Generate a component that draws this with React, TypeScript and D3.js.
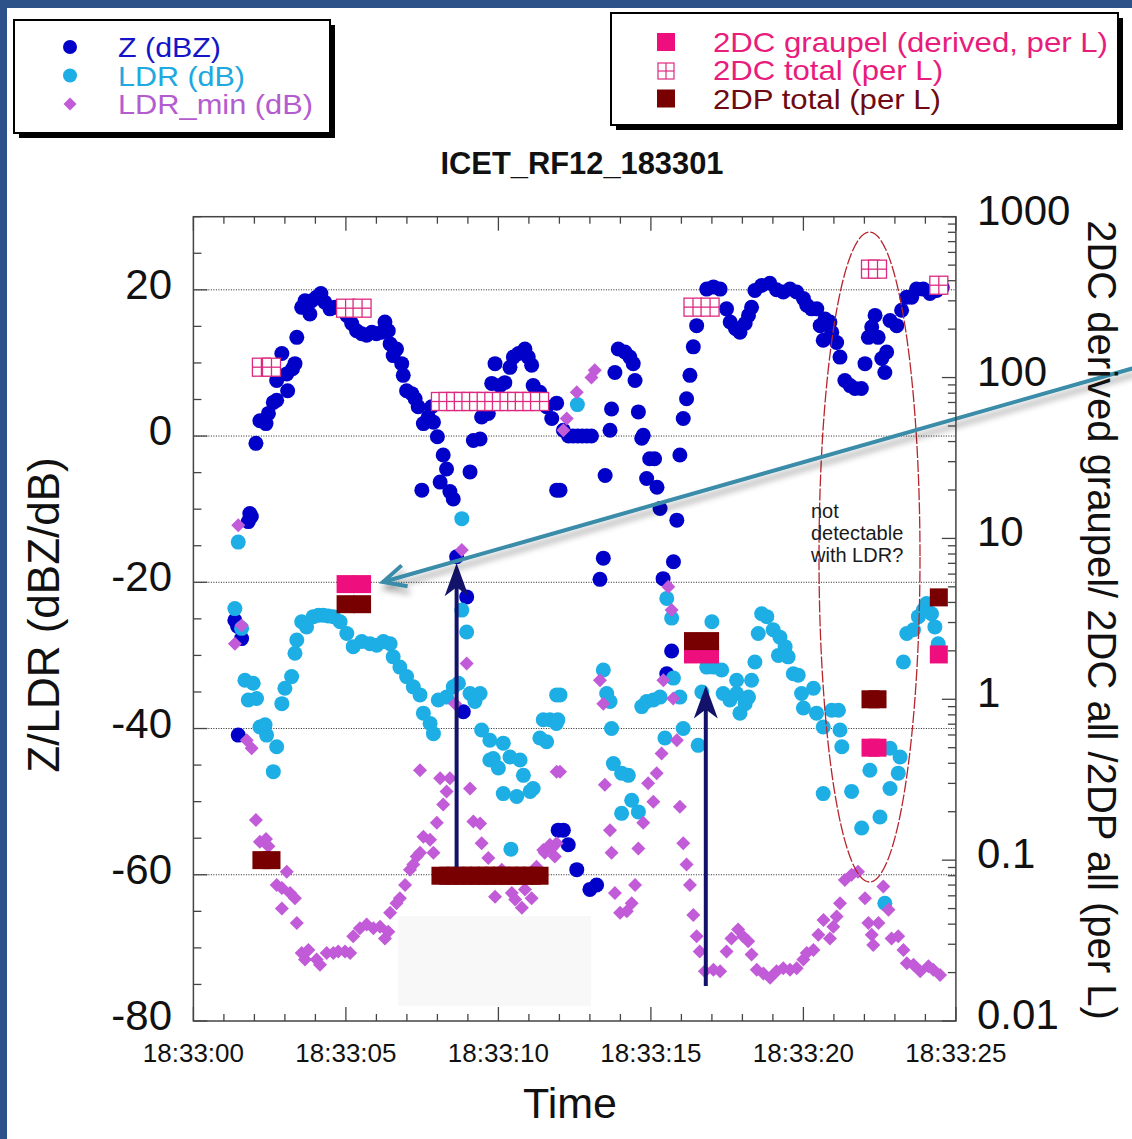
import React from 'react';
import * as d3 from 'd3';

// time in seconds after 18:33:00, values in dBZ / dB
const zPoints: [number, number][] = [
  [1.36,-25.2],[1.45,-26.0],[1.47,-40.9],[1.58,-27.7],[1.8,-11.7],[1.85,-10.6],[1.9,-11.0],
  [2.05,-1.0],[2.18,2.1],[2.38,1.7],[2.46,3.1],[2.62,4.6],[2.73,4.9],[2.73,7.6],[2.9,11.3],
  [3.06,8.5],[3.09,6.2],[3.25,9.2],[3.33,9.9],[3.39,13.5],[3.55,17.6],[3.66,18.5],[3.82,16.7],
  [3.88,18.5],[4.04,19.0],[4.18,19.5],[4.31,18.3],[4.48,17.4],[4.64,17.6],[4.81,17.6],[5.03,16.5],
  [5.19,15.4],[5.35,14.4],[5.52,14.0],[5.68,13.8],[5.85,14.2],[6.0,14.0],[6.17,14.2],[6.28,15.6],
  [6.39,14.4],[6.45,12.6],[6.55,11.0],[6.66,11.9],[6.83,9.9],[6.88,8.3],[6.99,6.2],[7.16,5.8],
  [7.27,5.1],[7.37,4.0],[7.49,-7.4],[7.54,1.7],[7.7,2.6],[7.81,4.0],[7.87,1.9],[8.0,-0.1],
  [8.09,-6.3],[8.19,-2.6],[8.3,-4.5],[8.41,-7.6],[8.52,-8.6],[8.63,-16.5],[8.85,-37.7],[8.96,-22.0],
  [9.07,-4.9],[9.18,-0.6],[9.4,-0.4],[9.45,2.6],[9.67,3.1],[9.78,7.2],[9.89,9.9],[10.05,6.9],
  [10.21,7.3],[10.38,9.4],[10.49,10.8],[10.66,11.3],[10.87,11.9],[10.98,10.8],[11.09,9.7],[11.14,6.9],
  [11.36,6.0],[11.58,4.0],[11.75,2.4],[11.91,4.5],[11.91,-7.4],[11.96,-53.9],[12.02,-7.4],[12.13,0.8],
  [12.13,-53.9],[12.29,-55.9],[12.3,0],[12.45,0],[12.57,-59.3],[12.6,0],[12.75,0],[12.9,0],
  [13.0,-62.0],[13.05,0],[13.22,-61.4],[13.33,-19.6],[13.44,-16.7],[13.5,-5.4],[13.66,0.8],[13.71,3.7],
  [13.82,8.7],[13.93,11.9],[14.15,11.5],[14.31,10.8],[14.42,9.9],[14.48,7.6],[14.59,3.3],[14.7,-0.3],
  [14.75,0.1],[14.86,-5.8],[14.96,-3.1],[15.12,-3.1],[15.2,-7.0],[15.3,-9.9],[15.4,-19.5],[15.52,-32.5],
  [15.68,-29.4],[15.74,-17.2],[15.85,-11.5],[15.95,-2.6],[16.06,2.4],[16.17,5.1],[16.28,8.3],[16.39,12.2],
  [16.5,15.1],[16.83,20.1],[17.05,20.4],[17.27,20.1],[17.48,17.4],[17.6,15.6],[17.77,14.7],[17.92,14.2],
  [18.09,15.4],[18.2,16.5],[18.3,17.6],[18.41,19.9],[18.63,20.6],[18.9,20.9],[19.12,20.0],[19.34,19.7],
  [19.56,20.1],[19.78,19.7],[20.0,18.8],[20.11,17.9],[20.27,17.4],[20.44,17.4],[20.55,15.1],[20.65,13.1],
  [20.71,16.0],[20.87,15.6],[20.93,14.2],[21.09,12.8],[21.2,10.8],[21.36,7.6],[21.53,6.9],[21.69,6.5],
  [21.9,6.5],[22.02,9.9],[22.13,13.5],[22.24,14.9],[22.35,16.5],[22.45,13.5],[22.57,10.6],[22.67,8.7],
  [22.73,11.5],[22.84,15.8],[23.06,15.1],[23.22,17.2],[23.39,19.0],[23.55,19.0],[23.71,20.1],[23.93,20.1],
  [24.15,19.5],[24.37,19.9],[24.55,20.3]
];

const ldrPoints: [number, number][] = [
  [1.36,-23.6],[1.47,-14.5],[1.58,-26.3],[1.69,-33.4],[1.8,-36.1],[1.96,-33.8],[2.07,-35.9],[2.18,-39.8],
  [2.35,-39.5],[2.4,-40.9],[2.62,-45.9],[2.73,-42.5],[2.9,-36.6],[3.0,-34.5],[3.22,-32.9],[3.33,-29.7],
  [3.39,-27.9],[3.55,-25.4],[3.71,-26.1],[3.93,-24.7],[4.1,-24.5],[4.26,-24.5],[4.42,-24.6],[4.59,-24.7],
  [4.81,-25.4],[5.03,-27.0],[5.24,-28.8],[5.52,-28.1],[5.79,-28.4],[6.01,-28.6],[6.23,-28.1],[6.45,-28.4],
  [6.55,-30.2],[6.77,-31.6],[6.99,-32.9],[7.21,-34.3],[7.43,-35.4],[7.54,-37.9],[7.76,-39.3],[7.87,-40.7],
  [8.03,-36.1],[8.3,-35.7],[8.52,-34.3],[8.69,-33.8],[8.8,-11.3],[8.8,-23.8],[8.96,-26.8],[9.07,-35.2],
  [9.23,-36.3],[9.4,-35.2],[9.45,-40.2],[9.72,-41.6],[9.72,-44.3],[9.83,-44.1],[10.0,-45.4],[10.16,-42.0],
  [10.16,-48.9],[10.38,-43.9],[10.41,-56.5],[10.6,-49.3],[10.71,-44.3],[10.82,-46.4],[11.04,-48.6],[11.14,-48.2],
  [11.36,-41.3],[11.47,-38.8],[11.58,-41.8],[11.69,-38.8],[11.9,-39.3],[11.91,-35.4],[11.95,-38.8],[12.02,-35.4],
  [12.59,4.3],[13.44,-32.0],[13.55,-35.2],[13.66,-36.3],[13.71,-40.0],[13.77,-44.8],[14.04,-46.1],[14.04,-51.6],
  [14.26,-46.4],[14.37,-49.8],[14.59,-51.4],[14.7,-37.0],[14.86,-36.3],[15.08,-36.1],[15.3,-35.7],[15.46,-41.3],
  [15.52,-22.2],[15.68,-24.9],[15.74,-33.1],[15.95,-35.7],[16.06,-40.0],[16.55,-42.3],[16.67,-35.0],[16.83,-31.6],
  [17.0,-25.4],[17.05,-31.6],[17.32,-32.0],[17.37,-35.2],[17.59,-36.1],[17.81,-35.2],[17.81,-33.4],[17.92,-37.9],
  [18.09,-36.6],[18.2,-35.7],[18.3,-33.4],[18.41,-30.9],[18.52,-27.0],[18.63,-24.3],[18.8,-24.7],[19.01,-26.5],
  [19.18,-30.0],[19.23,-27.5],[19.4,-28.8],[19.5,-30.2],[19.67,-32.5],[19.83,-32.7],[19.94,-35.2],[20.0,-37.2],
  [20.33,-34.5],[20.43,-37.9],[20.65,-39.8],[20.65,-48.9],[20.93,-37.5],[21.15,-37.5],[21.2,-40.2],[21.26,-42.5],
  [21.58,-48.6],[21.91,-53.6],[22.18,-45.7],[22.51,-52.1],[22.67,-63.9],[22.84,-42.7],[22.84,-48.2],[23.11,-46.1],
  [23.17,-43.9],[23.28,-30.9],[23.39,-27.0],[23.61,-26.5],[23.77,-24.7],[23.93,-23.8],[24.04,-22.9],[24.2,-24.3],
  [24.31,-26.1],[24.42,-28.4]
];

const ldrMinPoints: [number, number][] = [
  [1.36,-28.4],[1.47,-12.2],[1.58,-25.9],[1.75,-41.6],[1.91,-42.7],[2.05,-52.5],[2.18,-55.5],[2.38,-55.1],
  [2.46,-56.1],[2.73,-61.4],[2.9,-61.8],[2.9,-64.6],[3.06,-59.6],[3.17,-62.5],[3.33,-63.2],[3.39,-66.6],
  [3.55,-70.7],[3.66,-71.6],[3.77,-70.3],[4.04,-71.6],[4.15,-72.3],[4.37,-70.7],[4.59,-70.7],[4.75,-70.5],
  [4.97,-70.5],[5.14,-70.7],[5.24,-68.4],[5.46,-67.3],[5.68,-66.8],[5.9,-67.3],[6.12,-67.1],[6.28,-68.7],
  [6.39,-67.8],[6.45,-65.2],[6.66,-63.9],[6.77,-63.2],[6.94,-61.4],[7.1,-59.3],[7.21,-58.6],[7.32,-57.5],
  [7.43,-57.0],[7.43,-45.7],[7.54,-54.8],[7.76,-55.2],[7.87,-57.0],[7.98,-52.9],[8.09,-46.8],[8.19,-50.4],
  [8.3,-48.6],[8.41,-46.8],[8.58,-36.6],[8.8,-15.6],[8.96,-31.1],[9.07,-48.2],[9.18,-52.7],[9.4,-53.0],
  [9.45,-55.7],[9.67,-57.7],[9.89,-63.0],[10.11,-59.3],[10.44,-62.5],[10.55,-63.4],[10.77,-64.5],[10.87,-62.0],
  [11.09,-63.2],[11.25,-58.9],[11.47,-56.6],[11.52,-57.0],[11.69,-55.9],[11.74,-56.4],[11.85,-57.5],[11.91,-55.7],
  [11.91,-45.9],[12.02,-45.9],[12.13,0.8],[12.24,2.4],[12.57,6.0],[13.05,8.0],[13.16,9.0],[13.33,-33.4],
  [13.44,-36.6],[13.49,-47.7],[13.66,-53.9],[13.71,-57.0],[13.82,-62.5],[13.99,-65.2],[14.21,-65.0],[14.37,-63.9],
  [14.48,-61.4],[14.59,-56.4],[14.75,-52.9],[14.91,-47.5],[15.08,-50.0],[15.19,-46.1],[15.35,-43.4],[15.41,-33.4],
  [15.57,-20.6],[15.68,-23.8],[15.73,-35.9],[15.85,-41.6],[15.95,-50.7],[16.06,-55.7],[16.17,-58.6],[16.28,-61.4],
  [16.39,-65.5],[16.5,-68.4],[16.6,-70.5],[16.77,-73.2],[17.05,-73.0],[17.27,-73.2],[17.48,-70.5],[17.64,-68.7],
  [17.86,-67.5],[18.02,-68.4],[18.19,-69.1],[18.3,-70.9],[18.47,-73.0],[18.69,-73.5],[18.91,-74.1],[19.12,-73.2],
  [19.34,-72.8],[19.56,-73.0],[19.78,-72.8],[20.0,-71.6],[20.11,-70.7],[20.33,-70.3],[20.49,-68.2],[20.66,-66.2],
  [20.87,-68.7],[20.98,-67.1],[21.09,-65.7],[21.2,-63.9],[21.36,-60.7],[21.58,-60.0],[21.79,-59.6],[22.02,-63.2],
  [22.13,-66.6],[22.24,-68.2],[22.29,-69.6],[22.46,-66.6],[22.62,-61.6],[22.79,-64.8],[22.89,-68.7],[23.11,-68.4],
  [23.28,-70.3],[23.39,-72.1],[23.61,-72.3],[23.83,-73.2],[24.1,-72.5],[24.26,-73.0],[24.48,-73.7]
];

// particle probe concentrations (per L), time in s after 18:33:00
const dcTotalPoints: [number, number][] = [
  [2.23,116],[2.56,116],[4.99,270],[5.53,270],
  [8.1,71],[8.35,71],[8.6,71],[8.85,71],[9.1,71],[9.35,71],[9.6,71],[9.85,71],[10.1,71],[10.35,71],
  [10.6,71],[10.85,71],[11.1,71],[11.35,71],
  [16.38,274],[16.94,274],[22.2,472],[22.43,472],[24.44,375]
];
const dcGraupelPoints: [number, number][] = [
  [4.99,5.2],[5.53,5.2],[16.38,1.9],[16.94,1.9],[22.2,0.5],[22.43,0.5],[24.44,1.9]
];
const dpTotalPoints: [number, number][] = [
  [2.23,0.1],[2.56,0.1],[4.99,3.9],[5.53,3.9],
  [8.1,0.08],[8.35,0.08],[8.6,0.08],[8.85,0.08],[9.1,0.08],[9.35,0.08],[9.6,0.08],[9.85,0.08],[10.1,0.08],
  [10.35,0.08],[10.6,0.08],[10.85,0.08],[11.1,0.08],[11.35,0.08],
  [16.38,2.3],[16.94,2.3],[22.2,1.0],[22.43,1.0],[24.44,4.3]
];

const timeTicks = [0, 5, 10, 15, 20, 25];
const timeLabels = ['18:33:00', '18:33:05', '18:33:10', '18:33:15', '18:33:20', '18:33:25'];
const leftTicks = [20, 0, -20, -40, -60, -80];
const rightTicks = [1000, 100, 10, 1, 0.1, 0.01];
const rightLabels = ['1000', '100', '10', '1', '0.1', '0.01'];

const C_Z = '#0000C8';
const C_LDR = '#1CAEE4';
const C_MIN = '#C15BD8';
const C_GR = '#EE0E7E';
const C_TOT = '#DC2A80';
const C_DP = '#780000';
const FONT = "'Liberation Sans', Arial, Helvetica, sans-serif";

export default function App() {
  const W = 1132, H = 1139;
  const x0 = 193.4, x1 = 955.9, yTop = 216.7, yBot = 1021;
  const x = d3.scaleLinear().domain([0, 25]).range([x0, x1]);
  const yL = d3.scaleLinear().domain([-80, 30]).range([yBot, yTop]);
  const yR = d3.scaleLog().domain([0.01, 1000]).range([yBot, yTop]);

  const diamond = (r: number) => `M0,${-r}L${r},0L0,${r}L${-r},0Z`;
  const minorLeft = d3.range(-80, 31, 5);
  const minorTime = d3.range(0, 26, 1);
  const logTicks: number[] = [];
  for (let e = -2; e < 3; e++) for (let k = 1; k <= 9; k++) logTicks.push(k * Math.pow(10, e));
  logTicks.push(1000);

  // teal annotation arrow
  const aStart: [number, number] = [1134, 368];
  const aTip: [number, number] = [383, 582];
  const ang = Math.atan2(aStart[1] - aTip[1], aStart[0] - aTip[0]);
  const arm = 25, spread = 0.45;
  const armA = [aTip[0] + arm * Math.cos(ang - spread), aTip[1] + arm * Math.sin(ang - spread)];
  const armB = [aTip[0] + arm * Math.cos(ang + spread), aTip[1] + arm * Math.sin(ang + spread)];

  const navyArrow = (t: number, topV: number, botPx: number) => {
    const xx = x(t), tip = yL(topV);
    return (
      <g>
        <line x1={xx} x2={xx} y1={botPx} y2={tip + 20} stroke="#12126A" strokeWidth={4} />
        <path d={`M${xx},${tip}L${xx + 12},${tip + 33}L${xx},${tip + 24}L${xx - 12},${tip + 33}Z`} fill="#12126A" />
      </g>
    );
  };

  const sq = 18;
  const R = 7.5;
  const RD = 7;

  return (
    <svg width={W} height={H} style={{ position: 'absolute', left: 0, top: 0 }} fontFamily={FONT}>
      <defs>
        <filter id="shadow" x="-10%" y="-50%" width="120%" height="200%">
          <feDropShadow dx="2" dy="6" stdDeviation="3" floodColor="#000" floodOpacity="0.35" />
        </filter>
      </defs>
      <rect x={0} y={0} width={W} height={H} fill="#2D5189" />
      <rect x={7} y={8} width={W - 7} height={H - 8} fill="#fff" />

      {/* Left legend */}
      <rect x={19} y={25} width={316} height={113} fill="#000" />
      <rect x={14} y={20} width={316} height={113} fill="#fff" stroke="#000" strokeWidth={2} />
      <circle cx={70} cy={47} r={7} fill={C_Z} />
      <circle cx={70} cy={75.5} r={7} fill={C_LDR} />
      <path d={diamond(6.5)} transform="translate(70,104)" fill={C_MIN} />
      <text x={118} y={57} fontSize={28} fill="#1515C8" textLength={103} lengthAdjust="spacingAndGlyphs">Z (dBZ)</text>
      <text x={118} y={85.5} fontSize={28} fill="#20A8E0" textLength={127} lengthAdjust="spacingAndGlyphs">LDR (dB)</text>
      <text x={118} y={114} fontSize={28} fill="#B45CCF" textLength={195} lengthAdjust="spacingAndGlyphs">LDR_min (dB)</text>

      {/* Right legend */}
      <rect x={616} y={18} width={507} height={112} fill="#000" />
      <rect x={611} y={13} width={507} height={112} fill="#fff" stroke="#000" strokeWidth={2} />
      <rect x={657} y={33} width={18} height={18} fill={C_GR} />
      <g>
        <rect x={658} y={63} width={16} height={16} fill="#fff" stroke={C_TOT} strokeWidth={1.2} />
        <line x1={666} x2={666} y1={63} y2={79} stroke={C_TOT} strokeWidth={1.2} />
        <line x1={658} x2={674} y1={71} y2={71} stroke={C_TOT} strokeWidth={1.2} />
      </g>
      <rect x={657} y={89.5} width={18} height={18} fill={C_DP} />
      <text x={713} y={51.5} fontSize={28} fill="#E81C7C" textLength={395} lengthAdjust="spacingAndGlyphs">2DC graupel (derived, per L)</text>
      <text x={713} y={80} fontSize={28} fill="#E81C7C" textLength={230} lengthAdjust="spacingAndGlyphs">2DC total (per L)</text>
      <text x={713} y={108.5} fontSize={28} fill="#6E0A12" textLength={228} lengthAdjust="spacingAndGlyphs">2DP total (per L)</text>

      {/* Title */}
      <text x={582} y={174} fontSize={32} fontWeight="bold" textAnchor="middle" fill="#111" textLength={283} lengthAdjust="spacingAndGlyphs">ICET_RF12_183301</text>

      {/* Gridlines */}
      {[20, 0, -20, -40, -60].map(v => (
        <line key={'g' + v} x1={x0} x2={x1} y1={yL(v)} y2={yL(v)} stroke="#222" strokeWidth={1} strokeDasharray="1,1.5" />
      ))}

      {/* Data */}
      {zPoints.map(([t, v], i) => <circle key={'z' + i} cx={x(t)} cy={yL(v)} r={R} fill={C_Z} />)}
      {ldrPoints.map(([t, v], i) => <circle key={'l' + i} cx={x(t)} cy={yL(v)} r={R} fill={C_LDR} />)}
      {ldrMinPoints.map(([t, v], i) => <path key={'m' + i} d={diamond(RD)} transform={`translate(${x(t)},${yL(v)})`} fill={C_MIN} />)}

      {/* probe markers */}
      {dcTotalPoints.map(([t, v], i) => {
        const cx = x(t), cy = yR(v);
        return (
          <g key={'t' + i}>
            <rect x={cx - sq / 2} y={cy - sq / 2} width={sq} height={sq} fill="#fff" stroke={C_TOT} strokeWidth={1.3} />
            <line x1={cx} x2={cx} y1={cy - sq / 2} y2={cy + sq / 2} stroke={C_TOT} strokeWidth={1.3} />
            <line x1={cx - sq / 2} x2={cx + sq / 2} y1={cy} y2={cy} stroke={C_TOT} strokeWidth={1.3} />
          </g>
        );
      })}
      {dcGraupelPoints.map(([t, v], i) => (
        <rect key={'gr' + i} x={x(t) - sq / 2} y={yR(v) - sq / 2} width={sq} height={sq} fill={C_GR} />
      ))}
      {dpTotalPoints.map(([t, v], i) => (
        <rect key={'dp' + i} x={x(t) - sq / 2} y={yR(v) - sq / 2} width={sq} height={sq} fill={C_DP} />
      ))}

      {/* light box */}
      <rect x={398} y={916} width={193} height={90} fill="#F8F8F8" />

      {/* ellipse annotation */}
      <ellipse cx={869.5} cy={557} rx={50.5} ry={325} fill="none" stroke="#B5262E" strokeWidth={1.3} strokeDasharray="12,2" />
      <text fontSize={20} fill="#1a1a1a">
        <tspan x={811} y={518}>not</tspan>
        <tspan x={811} y={540}>detectable</tspan>
        <tspan x={811} y={562}>with LDR?</tspan>
      </text>

      {/* navy arrows */}
      {navyArrow(8.63, -17.4, 867)}
      {navyArrow(16.8, -34.1, 986)}

      {/* teal arrow */}
      <g filter="url(#shadow)">
        <line x1={aStart[0]} y1={aStart[1]} x2={aTip[0]} y2={aTip[1]} stroke="#3A8CA8" strokeWidth={4} />
        <polyline points={`${armA[0]},${armA[1]} ${aTip[0]},${aTip[1]} ${armB[0]},${armB[1]}`} fill="none" stroke="#3A8CA8" strokeWidth={4} strokeLinejoin="miter" />
      </g>

      {/* frame */}
      <rect x={x0} y={yTop} width={x1 - x0} height={yBot - yTop} fill="none" stroke="#444" strokeWidth={1.5} />
      {minorLeft.map(v => {
        const major = v % 20 === 0;
        return <line key={'lt' + v} x1={x0} x2={x0 + (major ? 14 : 8)} y1={yL(v)} y2={yL(v)} stroke="#444" strokeWidth={1.3} />;
      })}
      {minorTime.map(t => {
        const major = t % 5 === 0;
        const L = major ? 14 : 7;
        return (
          <g key={'tt' + t}>
            <line x1={x(t)} x2={x(t)} y1={yBot} y2={yBot - L} stroke="#444" strokeWidth={1.3} />
            <line x1={x(t)} x2={x(t)} y1={yTop} y2={yTop + L} stroke="#444" strokeWidth={1.3} />
          </g>
        );
      })}
      {logTicks.map((v, i) => {
        const major = Math.abs(Math.log10(v) - Math.round(Math.log10(v))) < 1e-9;
        return <line key={'rt' + i} x1={x1} x2={x1 - (major ? 14 : 8)} y1={yR(v)} y2={yR(v)} stroke="#444" strokeWidth={1.3} />;
      })}

      {/* axis labels */}
      {leftTicks.map(v => (
        <text key={'ll' + v} x={172} y={yL(v) + 9} fontSize={42} textAnchor="end" fill="#111">{v}</text>
      ))}
      {rightTicks.map((v, i) => (
        <text key={'rl' + i} x={977} y={yR(v) + 8} fontSize={42} fill="#111">{rightLabels[i]}</text>
      ))}
      {timeTicks.map((t, i) => (
        <text key={'bl' + t} x={x(t)} y={1062} fontSize={26} textAnchor="middle" fill="#111">{timeLabels[i]}</text>
      ))}
      <text x={570} y={1118} fontSize={43} textAnchor="middle" fill="#111">Time</text>
      <text transform="translate(59,615) rotate(-90)" fontSize={44} textAnchor="middle" fill="#111">Z/LDR (dBZ/dB)</text>
      <text transform="translate(1088,620) rotate(90)" fontSize={40} textAnchor="middle" fill="#111">2DC derived graupel/ 2DC all /2DP all (per L)</text>
    </svg>
  );
}
